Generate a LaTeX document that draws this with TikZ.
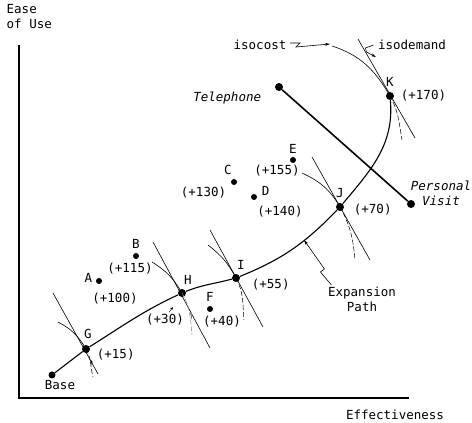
\documentclass[tikz,border=0pt]{standalone}
\usepackage{fontspec}
\setmonofont{DejaVu Sans Mono}
\usetikzlibrary{positioning,arrows.meta,calc}

\begin{document}
\begin{tikzpicture}[
  x=1pt, y=1pt,
  every node/.style={font=\ttfamily\fontsize{12.5}{15}\selectfont, inner sep=0.5pt},
  dot/.style={circle, fill, inner sep=0pt, minimum size=6pt},
  bigdot/.style={circle, fill, inner sep=0pt, minimum size=8pt},
  axis/.style={line width=1.4pt},
  expath/.style={line width=1.1pt},
  tangent/.style={line width=0.6pt},
  isoc/.style={line width=0.6pt},
  tail/.style={line width=0.5pt, dash pattern=on 5pt off 2pt},
  leader/.style={line width=0.6pt, -{Stealth[length=5pt,width=3pt]}},
  mode/.style={font=\ttfamily\itshape\fontsize{12.5}{15}\selectfont}
]
  \useasboundingbox (0,0) rectangle (472,423);

  % Axes
  \coordinate (top) at (19,378);
  \coordinate (right) at (409,25);
  \draw[axis] (top) |- (right);
  \node[anchor=north west, align=left] (ylab) at (6,419) {Ease\\of Use};
  \node (xlab) at (395,8) {Effectiveness};

  % Points on the expansion path
  \node[dot, minimum size=7pt] (base) at (52,48) {};
  \node[bigdot] (G) at (86,74) {};
  \node[bigdot] (H) at (182,130) {};
  \node[bigdot] (I) at (236,145) {};
  \node[bigdot] (J) at (340,216) {};
  \node[bigdot] (K) at (390,327) {};

  % Other options
  \node[dot] (A) at (99,142) {};
  \node[dot] (B) at (136,167) {};
  \node[dot] (C) at (234,241) {};
  \node[dot] (D) at (254,226) {};
  \node[dot] (E) at (293,263) {};
  \node[dot] (F) at (210,114) {};
  \node[bigdot] (tel) at (279,336) {};
  \node[bigdot] (pv) at (411,219) {};

  % Labels
  \node[below=1pt of base, xshift=8pt] {Base};
  \node[above=5pt of G, xshift=2pt] {G};
  \node[right=6pt of G, yshift=-6pt] {(+15)};
  \node[above=4pt of H, xshift=6pt] {H};
  \node[below=16pt of H, xshift=-17pt] (v30) {(+30)};
  \node[left=3pt of A, yshift=3pt] {A};
  \node[below=8pt of A, xshift=16pt] {(+100)};
  \node[above=4pt of B] {B};
  \node[below=3pt of B, xshift=-6pt] {(+115)};
  \node[above=4pt of F] {F};
  \node[below=3pt of F, xshift=12pt] {(+40)};
  \node[above=4pt of I, xshift=5pt] {I};
  \node[right=11pt of I, yshift=-7pt] {(+55)};
  \node[above=3pt of C, xshift=-6pt] {C};
  \node[left=4pt of C, yshift=-11pt] {(+130)};
  \node[right=4pt of D, yshift=6pt] {D};
  \node[below=5pt of D, xshift=26pt] {(+140)};
  \node[above=3pt of E] {E};
  \node[below=1pt of E, xshift=-16pt] {(+155)};
  \node[above=4pt of J] {J};
  \node[right=9pt of J, yshift=-3pt] {(+70)};
  \node[above=5pt of K] {K};
  \node[right=6pt of K] {(+170)};
  \node[mode, left=13pt of tel, yshift=-11pt] {Telephone};
  \node[mode, right=-5pt of pv, yshift=11pt, align=center] {Personal\\Visit};

  % Telephone vs personal visit
  \draw[line width=1.6pt] (tel) -- (pv);

  % Expansion path
  \draw[expath] (base) -- (G) to[out=32,in=205] (H) to[out=22,in=195]
    (I) to[out=22,in=226] (J) to[out=50,in=-85] (K);

  % Isodemand tangents
  \draw[tangent] ($(G)+(-33,56)$) -- ($(G)+(12,-25)$);
  \draw[tangent] ($(H)+(-29,51)$) -- ($(H)+(28,-55)$);
  \draw[tangent] ($(I)+(-26,48)$) -- ($(I)+(27,-49)$);
  \draw[tangent] ($(J)+(-28,50)$) -- ($(J)+(30,-53)$);
  \draw[tangent] ($(K)+(-32,57)$) -- ($(K)+(25,-42)$);

  % Isocost curves
  \draw[isoc] ($(G)+(-28,27)$) to[out=-28,in=120] (G.center);
  \draw[tail] (G.center) to[out=-60,in=105] ($(G)+(7,-28)$);
  \draw[isoc] ($(H)+(-30,31)$) to[out=-32,in=120] (H.center);
  \draw[tail, gray] (H.center) to[out=-60,in=95] ($(H)+(10,-42)$);
  \draw[isoc] ($(I)+(-28,33)$) to[out=-38,in=118] (I.center);
  \draw[tail] (I.center) to[out=-62,in=95] ($(I)+(8,-42)$);
  \draw[isoc] ($(J)+(-38,34)$) to[out=-25,in=120] (J.center);
  \draw[tail] (J.center) to[out=-61,in=95] ($(J)+(15,-53)$);
  \draw[isoc] ($(K)+(-58,50)$) to[out=-18,in=120] (K.center);
  \draw[tail] (K.center) to[out=-61,in=100] ($(K)+(12,-44)$);

  % Small arrow marks
  \draw[-{Stealth[length=3pt,width=2.5pt]}, line width=0.4pt] ($(G)+(6,-16)$) -- ($(G)+(5,-11)$);
  \draw[-{Stealth[length=3pt,width=2.5pt]}, line width=0.4pt, gray] ($(H)+(9,-26)$) -- ($(H)+(9,-19)$);
  \draw[-{Stealth[length=3pt,width=2.5pt]}, line width=0.4pt] ($(v30.north)+(4,1)$) -- ($(v30.north)+(8,6)$);

  % Leaders
  \node (isocost) at (260,378) {isocost};
  \node (isodemand) at (412,378) {isodemand};
  \node[align=center] (exlab) at (362,124) {Expansion\\Path};
  \coordinate (costend) at (330,379);
  \coordinate (demend) at (376,366);
  \coordinate (exend) at (304,183);
  \draw[leader] (isocost.east) ++(3,2) -- ++(10,0) -- ++(-4,-4) -- (costend);
  \draw[leader] (isodemand.west) ++(-4,0) -- ++(-8,-3) -- ++(1,-4) -- (demend);
  \draw[leader] (exlab.north west) ++(4,1) -- ++(-11,13) -- ++(4,3) -- (exend);
\end{tikzpicture}
\end{document}
